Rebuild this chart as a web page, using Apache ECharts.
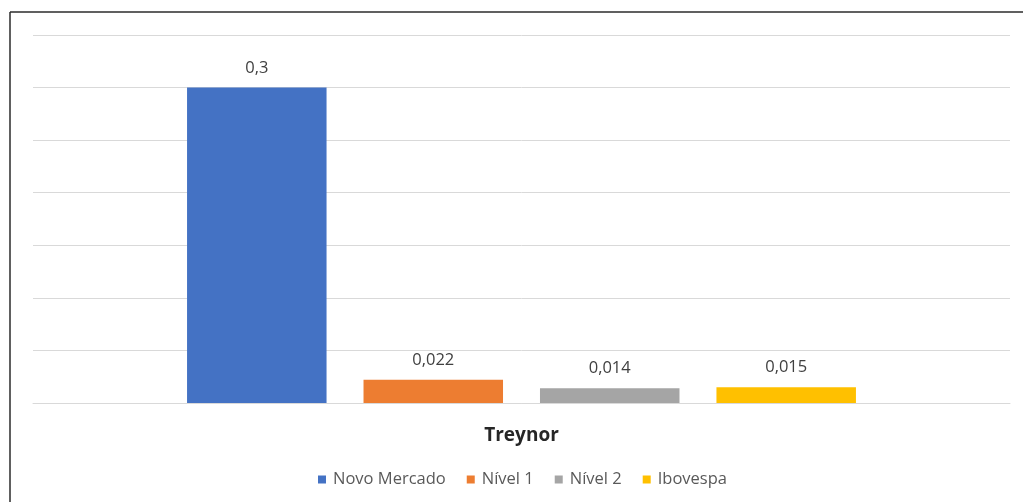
<!DOCTYPE html>
<html>
<head>
<meta charset="utf-8">
<script src="https://cdn.jsdelivr.net/npm/echarts@6/dist/echarts.min.js"></script>
<style>
  html, body { margin: 0; padding: 0; background: #fff; }
  #chart { width: 1023px; height: 502px; }
</style>
</head>
<body>
<div id="chart"></div>
<script>
// Treynor index per listing segment
const categories = ['Treynor'];
const seriesNames = ['Novo Mercado', 'Nível 1', 'Nível 2', 'Ibovespa'];
const seriesValues = [[0.3], [0.022], [0.014], [0.015]];
const seriesColors = ['#4472c4', '#ed7d31', '#a5a5a5', '#ffc000'];

const fmt = v => String(v).replace('.', ',');

const chart = echarts.init(document.getElementById('chart'));
const font = "'Open Sans', 'Noto Sans', sans-serif";

chart.setOption({
  backgroundColor: '#ffffff',
  animation: false,
  textStyle: { fontFamily: font },
  grid: { left: 33, right: 13, top: 35, bottom: 99 },
  legend: {
    data: seriesNames,
    bottom: 9,
    left: 313,
    itemWidth: 8,
    itemHeight: 8,
    itemGap: 21,
    icon: 'rect',
    textStyle: { color: '#595959', fontSize: 16.5, fontFamily: font, padding: [0, 0, 0, 2] }
  },
  xAxis: {
    type: 'category',
    data: categories,
    axisLine: { lineStyle: { color: '#d9d9d9', width: 1 } },
    axisTick: { show: false },
    axisLabel: { color: '#262626', fontSize: 19, fontWeight: 'bold', margin: 23, fontFamily: font }
  },
  yAxis: {
    type: 'value',
    min: 0,
    max: 0.35,
    interval: 0.05,
    axisLabel: { show: false },
    axisLine: { show: false },
    axisTick: { show: false },
    splitLine: { lineStyle: { color: '#d9d9d9', width: 1 } }
  },
  series: seriesNames.map((name, i) => ({
    name,
    type: 'bar',
    data: seriesValues[i],
    barWidth: 139.5,
    barGap: '26.5%',
    itemStyle: { color: seriesColors[i] },
    label: {
      show: true,
      position: 'top',
      distance: 11,
      color: '#404040',
      fontSize: 16.5,
      fontFamily: font,
      formatter: p => fmt(p.value)
    }
  })),
  graphic: [
    { type: 'line', shape: { x1: 10, y1: 12, x2: 1023, y2: 12 }, style: { stroke: '#2b2b2b', lineWidth: 1.5 } },
    { type: 'line', shape: { x1: 10, y1: 12, x2: 10, y2: 502 }, style: { stroke: '#2b2b2b', lineWidth: 1.5 } }
  ]
});
</script>
</body>
</html>
